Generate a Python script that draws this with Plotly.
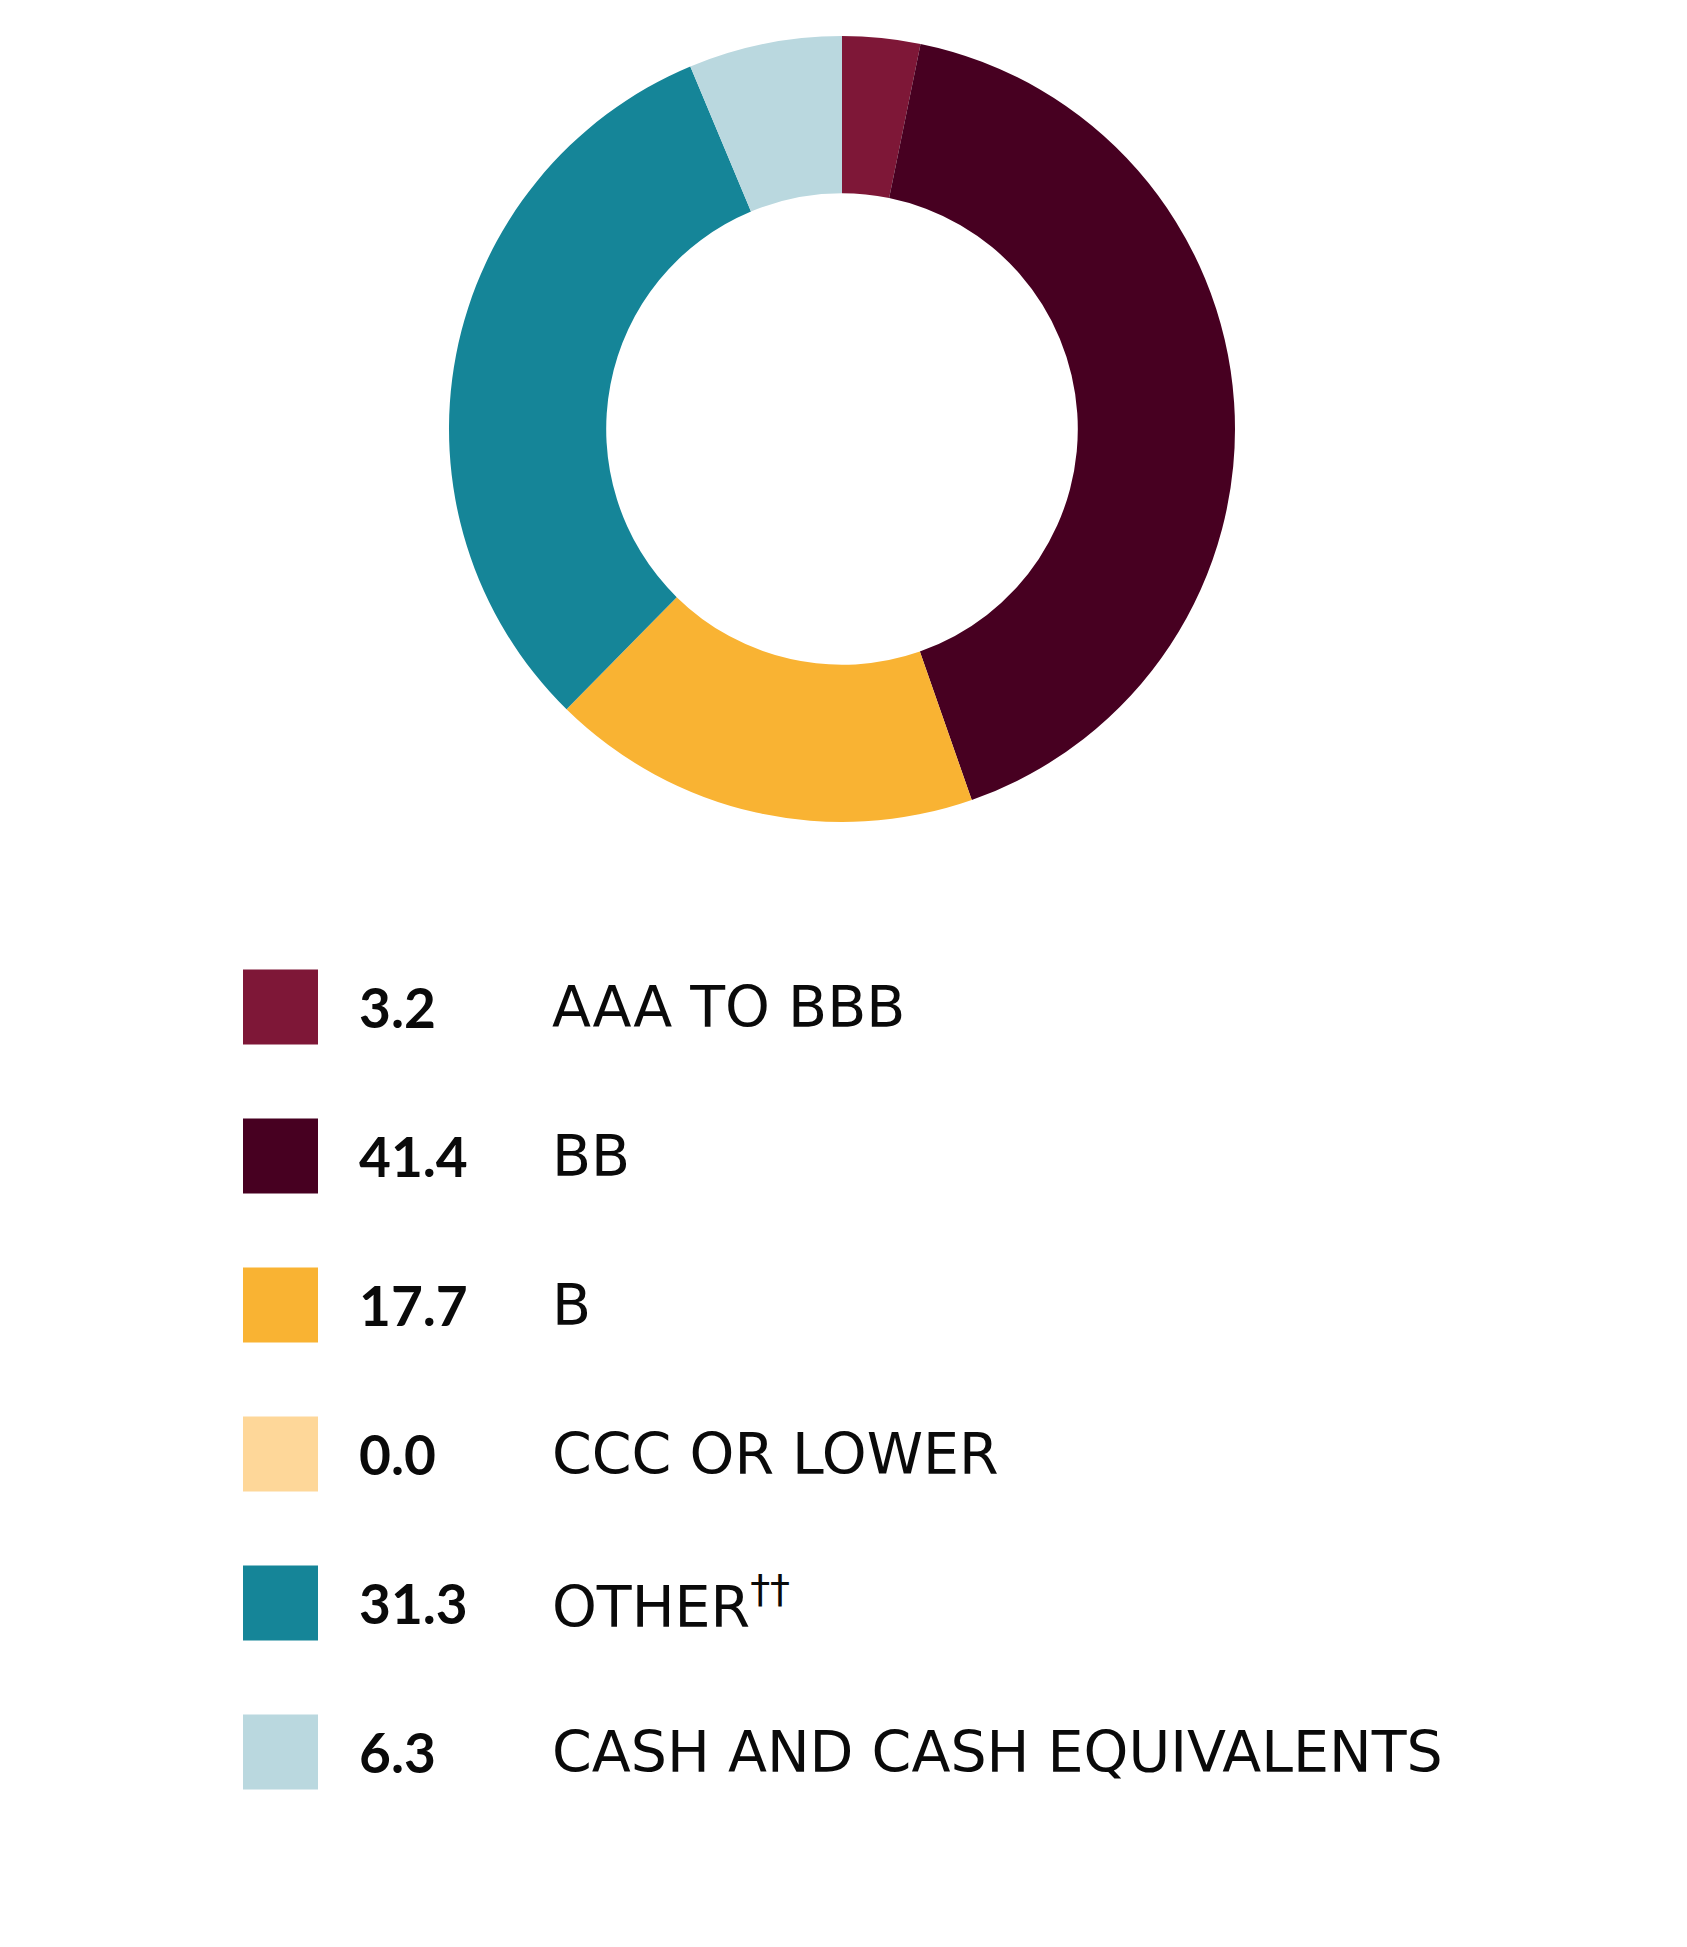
import plotly.graph_objects as go

categories = ["AAA TO BBB", "BB", "B", "CCC OR LOWER", "OTHER<sup>††</sup>", "CASH AND CASH EQUIVALENTS"]
values = [3.2, 41.4, 17.7, 0.0, 31.3, 6.3]
value_labels = ["3.2", "41.4", "17.7", "0.0", "31.3", "6.3"]
colors = ["#7E1737", "#470021", "#F9B333", "#FED799", "#158598", "#BAD8DF"]

W, H = 1687, 1947
fig = go.Figure()
fig.add_trace(go.Pie(
    values=values,
    labels=categories,
    marker=dict(colors=colors, line=dict(width=0)),
    hole=0.6,
    sort=False,
    direction="clockwise",
    rotation=0,
    textinfo="none",
    hoverinfo="label+value",
    showlegend=False,
    domain=dict(x=[(842 - 393) / W, (842 + 393) / W],
                y=[1 - (429 + 393) / H, 1 - (429 - 393) / H]),
))

row0, step = 1007, 149
sq = 75
for i, (lab, val, col) in enumerate(zip(categories, value_labels, colors)):
    cy = row0 + i * step
    fig.add_shape(type="rect", xref="paper", yref="paper",
                  x0=243 / W, x1=(243 + sq) / W,
                  y0=1 - (cy + sq / 2) / H, y1=1 - (cy - sq / 2) / H,
                  fillcolor=col, line=dict(width=0))
    fig.add_annotation(x=357 / W, y=1 - cy / H, xref="paper", yref="paper",
                       text="<b>" + val + "</b>", showarrow=False,
                       xanchor="left", yanchor="middle",
                       font=dict(family="Lato", size=55, color="#0a0a0a"))
    fig.add_annotation(x=550 / W, y=1 - cy / H, xref="paper", yref="paper",
                       text=lab, showarrow=False,
                       xanchor="left", yanchor="middle",
                       font=dict(family="DejaVu Sans", size=57, color="#0a0a0a"))

fig.update_layout(width=W, height=H, margin=dict(l=0, r=0, t=0, b=0),
                  paper_bgcolor="white", plot_bgcolor="white")
fig.write_html("out.html", config={"displayModeBar": False},
               post_script="document.body.style.margin='0px';")
